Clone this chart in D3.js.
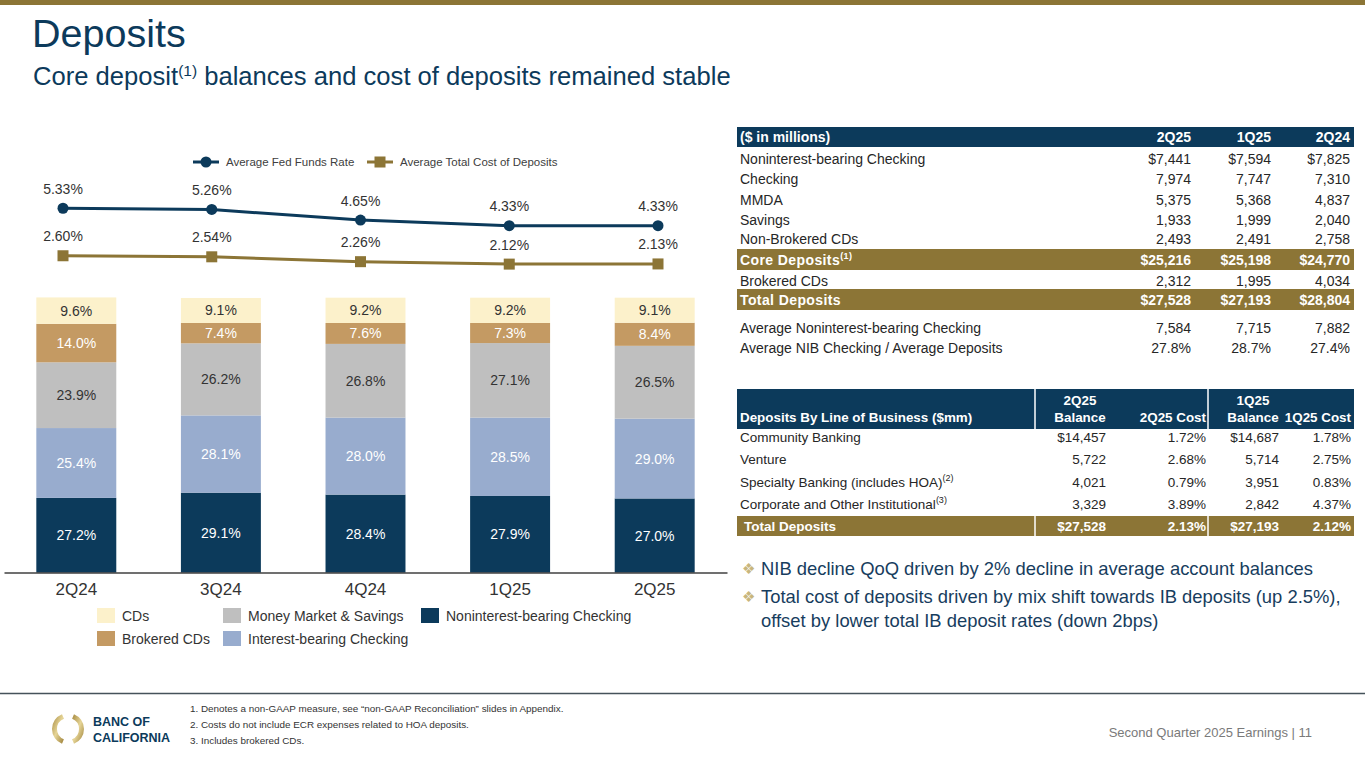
<!DOCTYPE html>
<html>
<head>
<meta charset="utf-8">
<script src="https://cdn.jsdelivr.net/npm/d3@7"></script>
<style>
body { margin: 0; background: #fff; }
svg text { font-family: "Liberation Sans", Arial, sans-serif; }
</style>
</head>
<body>
<div id="canvas"></div>
<script>
// ---- chart data ----
var quarters = ['2Q24', '3Q24', '4Q24', '1Q25', '2Q25'];
var nibChecking = [27.2, 29.1, 28.4, 27.9, 27.0];
var ibChecking = [25.4, 28.1, 28.0, 28.5, 29.0];
var moneyMarket = [23.9, 26.2, 26.8, 27.1, 26.5];
var brokeredCDs = [14.0, 7.4, 7.6, 7.3, 8.4];
var cds = [9.6, 9.1, 9.2, 9.2, 9.1];
var fedFunds = [5.33, 5.26, 4.65, 4.33, 4.33];
var costOfDeposits = [2.60, 2.54, 2.26, 2.12, 2.13];

// ---- balance table ----
var balanceHeaders = ['2Q25', '1Q25', '2Q24'];
var balanceLabels = ['Noninterest-bearing Checking', 'Checking', 'MMDA', 'Savings', 'Non-Brokered CDs',
    'Core Deposits', 'Brokered CDs', 'Total Deposits', 'Average Noninterest-bearing Checking',
    'Average NIB Checking / Average Deposits'];
var balance2Q25 = ['$7,441', '7,974', '5,375', '1,933', '2,493', '$25,216', '2,312', '$27,528', '7,584', '27.8%'];
var balance1Q25 = ['$7,594', '7,747', '5,368', '1,999', '2,491', '$25,198', '1,995', '$27,193', '7,715', '28.7%'];
var balance2Q24 = ['$7,825', '7,310', '4,837', '2,040', '2,758', '$24,770', '4,034', '$28,804', '7,882', '27.4%'];

// ---- line of business table ----
var lobLabels = ['Community Banking', 'Venture', 'Specialty Banking (includes HOA)',
    'Corporate and Other Institutional', 'Total Deposits'];
var lobBalance2Q25 = ['$14,457', '5,722', '4,021', '3,329', '$27,528'];
var lobCost2Q25 = ['1.72%', '2.68%', '0.79%', '3.89%', '2.13%'];
var lobBalance1Q25 = ['$14,687', '5,714', '3,951', '2,842', '$27,193'];
var lobCost1Q25 = ['1.78%', '2.75%', '0.83%', '4.37%', '2.12%'];

var navy = '#0c3a5b';
var gold = '#8c7536';
var textDark = '#262626';

var svg = d3.select(document.getElementById('canvas')).append('svg')
    .attr('width', 1365)
    .attr('height', 768);

// top band + titles
svg.append('rect').attr('x', 0).attr('y', 0).attr('width', 1365).attr('height', 5).attr('fill', gold);

svg.append('text').attr('x', 32).attr('y', 47)
    .attr('font-size', 39.5).attr('fill', navy).text('Deposits');

var sub = svg.append('text').attr('x', 33).attr('y', 85).attr('font-size', 25.6).attr('fill', navy);
sub.append('tspan').text('Core deposit');
sub.append('tspan').attr('dy', -9).attr('font-size', 15.5).text('(1)');
sub.append('tspan').attr('dy', 9).text(' balances and cost of deposits remained stable');

// ---- rate lines ----
var xLine = d3.scalePoint().domain(quarters).range([63, 658]);
var yRate = d3.scaleLinear().domain([0, 6]).range([301, 196.6]);

var rateSeries = [
    { name: 'Average Fed Funds Rate', values: fedFunds, color: navy, marker: 'circle' },
    { name: 'Average Total Cost of Deposits', values: costOfDeposits, color: gold, marker: 'square' }
];

var rateLine = d3.line()
    .x(function(d, i) { return xLine(quarters[i]); })
    .y(function(d) { return yRate(d); });

rateSeries.forEach(function(s) {
    svg.append('path').attr('d', rateLine(s.values))
        .attr('fill', 'none').attr('stroke', s.color).attr('stroke-width', 3);

    s.values.forEach(function(v, i) {
        var cx = xLine(quarters[i]), cy = yRate(v);
        if (s.marker === 'circle') {
            svg.append('circle').attr('cx', cx).attr('cy', cy).attr('r', 5.5).attr('fill', s.color);
        } else {
            svg.append('rect').attr('x', cx - 5.5).attr('y', cy - 5.5)
                .attr('width', 11).attr('height', 11).attr('fill', s.color);
        }
        svg.append('text').attr('x', cx).attr('y', cy - 14.5)
            .attr('text-anchor', 'middle').attr('font-size', 14).attr('fill', '#333')
            .text(v.toFixed(2) + '%');
    });
});

// legend for the lines
var lineLegendX = [193, 367];
rateSeries.forEach(function(s, i) {
    var lx = lineLegendX[i], ly = 162;
    svg.append('line').attr('x1', lx).attr('x2', lx + 26).attr('y1', ly).attr('y2', ly)
        .attr('stroke', s.color).attr('stroke-width', 3);
    if (s.marker === 'circle') {
        svg.append('circle').attr('cx', lx + 13).attr('cy', ly).attr('r', 5.5).attr('fill', s.color);
    } else {
        svg.append('rect').attr('x', lx + 7.5).attr('y', ly - 5.5).attr('width', 11).attr('height', 11).attr('fill', s.color);
    }
    svg.append('text').attr('x', lx + 33).attr('y', ly + 4)
        .attr('font-size', 11.5).attr('fill', '#404040').text(s.name);
});

// ---- stacked bars ----
var xBar = d3.scaleBand().domain(quarters).range([4, 727])
    .paddingInner(0.447).paddingOuter(0.2235);
var yPct = d3.scaleLinear().domain([0, 100]).range([572.7, 297.7]);

var segKeys = ['nib', 'ib', 'mm', 'brokered', 'cds'];
var segNames = {
    nib: 'Noninterest-bearing Checking', ib: 'Interest-bearing Checking',
    mm: 'Money Market & Savings', brokered: 'Brokered CDs', cds: 'CDs'
};
var segColors = { nib: '#0c3a5b', ib: '#98acce', mm: '#bfbfbf', brokered: '#c49a63', cds: '#fcf1cb' };
var segLabelColors = { nib: '#fff', ib: '#fff', mm: '#333', brokered: '#fff', cds: '#333' };

var barRows = quarters.map(function(q, i) {
    return { q: q, nib: nibChecking[i], ib: ibChecking[i], mm: moneyMarket[i], brokered: brokeredCDs[i], cds: cds[i] };
});
var stacked = d3.stack().keys(segKeys)(barRows);

var layers = svg.selectAll('g.layer').data(stacked).enter().append('g').attr('class', 'layer');

layers.selectAll('rect').data(function(d) { return d; }).enter().append('rect')
    .attr('x', function(d) { return xBar(d.data.q); })
    .attr('y', function(d) { return yPct(d[1]); })
    .attr('width', xBar.bandwidth())
    .attr('height', function(d) { return yPct(d[0]) - yPct(d[1]); })
    .attr('fill', function() { return segColors[d3.select(this.parentNode).datum().key]; });

layers.each(function(layer) {
    d3.select(this).selectAll('text').data(layer).enter().append('text')
        .attr('x', function(d) { return xBar(d.data.q) + xBar.bandwidth() / 2; })
        .attr('y', function(d) { return (yPct(d[0]) + yPct(d[1])) / 2 + 5; })
        .attr('text-anchor', 'middle').attr('font-size', 14)
        .attr('fill', segLabelColors[layer.key])
        .text(function(d) { return d.data[layer.key].toFixed(1) + '%'; });
});

var xAxis = svg.append('g').attr('transform', 'translate(0,572.5)')
    .call(d3.axisBottom(xBar).tickSize(0).tickPadding(10.5));
xAxis.select('.domain').attr('stroke', '#404040').attr('stroke-width', 1.5);
xAxis.selectAll('text').attr('font-size', 17).attr('fill', '#333')
    .attr('font-family', '"Liberation Sans", Arial, sans-serif');

// bar legend
var barLegend = [
    { key: 'cds', x: 97, y: 616 }, { key: 'mm', x: 223, y: 616 }, { key: 'nib', x: 421, y: 616 },
    { key: 'brokered', x: 97, y: 639 }, { key: 'ib', x: 223, y: 639 }
];
barLegend.forEach(function(it) {
    svg.append('rect').attr('x', it.x).attr('y', it.y - 8).attr('width', 18).attr('height', 15)
        .attr('fill', segColors[it.key]);
    svg.append('text').attr('x', it.x + 25).attr('y', it.y + 5)
        .attr('font-size', 14).attr('fill', '#333').text(segNames[it.key]);
});

// ---- balance table ----
var tableLeft = 737, tableWidth = 617;
var balanceColX = [1191, 1271, 1350];
var balanceRowY = [158.7, 179.3, 200, 220, 239.3, 259.5, 281, 299.5, 327.7, 347.7];
var balanceBands = { 5: [249, 21], 7: [289, 21] };
var balanceNotes = { 5: '(1)' };
var balanceCols = [balance2Q25, balance1Q25, balance2Q24];

svg.append('rect').attr('x', tableLeft).attr('y', 127).attr('width', tableWidth).attr('height', 20).attr('fill', navy);
svg.append('text').attr('x', 740).attr('y', 142).attr('font-size', 14).attr('font-weight', 'bold')
    .attr('fill', '#fff').text('($ in millions)');
balanceHeaders.forEach(function(h, c) {
    svg.append('text').attr('x', balanceColX[c]).attr('y', 142).attr('text-anchor', 'end')
        .attr('font-size', 14).attr('font-weight', 'bold').attr('fill', '#fff').text(h);
});

balanceLabels.forEach(function(label, r) {
    var band = balanceBands[r];
    var y = balanceRowY[r] + 5;
    var color = band ? '#fff' : textDark;
    var weight = band ? 'bold' : 'normal';
    if (band) {
        svg.append('rect').attr('x', tableLeft).attr('y', band[0]).attr('width', tableWidth)
            .attr('height', band[1]).attr('fill', gold);
    }
    var t = svg.append('text').attr('x', 740).attr('y', y).attr('font-size', 14)
        .attr('font-weight', weight).attr('fill', color)
        .attr('letter-spacing', band ? 0.4 : 0);
    t.append('tspan').text(label);
    if (balanceNotes[r]) {
        t.append('tspan').attr('dy', -6).attr('font-size', 9).text(balanceNotes[r]);
    }
    balanceCols.forEach(function(col, c) {
        svg.append('text').attr('x', balanceColX[c]).attr('y', y).attr('text-anchor', 'end')
            .attr('font-size', 14).attr('font-weight', weight).attr('fill', color).text(col[r]);
    });
});

// ---- line of business table ----
var lobColX = [1106, 1206, 1279, 1351];
var lobRowY = [437, 458.5, 481.5, 504, 526];
var lobNotes = { 2: '(2)', 3: '(3)' };
var lobCols = [lobBalance2Q25, lobCost2Q25, lobBalance1Q25, lobCost1Q25];

svg.append('rect').attr('x', tableLeft).attr('y', 389).attr('width', tableWidth).attr('height', 40).attr('fill', navy);
svg.append('rect').attr('x', tableLeft).attr('y', 516).attr('width', tableWidth).attr('height', 20).attr('fill', gold);

var hdr = svg.append('g').attr('font-size', 13.4).attr('font-weight', 'bold').attr('fill', '#fff');
hdr.append('text').attr('x', 740).attr('y', 422).text('Deposits By Line of Business ($mm)');
hdr.append('text').attr('x', 1080).attr('y', 405).attr('text-anchor', 'middle').text('2Q25');
hdr.append('text').attr('x', 1080).attr('y', 422).attr('text-anchor', 'middle').text('Balance');
hdr.append('text').attr('x', 1206).attr('y', 422).attr('text-anchor', 'end').text('2Q25 Cost');
hdr.append('text').attr('x', 1253).attr('y', 405).attr('text-anchor', 'middle').text('1Q25');
hdr.append('text').attr('x', 1253).attr('y', 422).attr('text-anchor', 'middle').text('Balance');
hdr.append('text').attr('x', 1351).attr('y', 422).attr('text-anchor', 'end').text('1Q25 Cost');

[1035, 1208].forEach(function(x) {
    svg.append('line').attr('x1', x).attr('x2', x).attr('y1', 389).attr('y2', 536)
        .attr('stroke', '#fff').attr('stroke-width', 1.5);
});

lobLabels.forEach(function(label, r) {
    var isTotal = r === lobLabels.length - 1;
    var color = isTotal ? '#fff' : textDark;
    var weight = isTotal ? 'bold' : 'normal';
    var y = lobRowY[r] + 5;
    var t = svg.append('text').attr('x', isTotal ? 744 : 740).attr('y', y).attr('font-size', 13.5)
        .attr('font-weight', weight).attr('fill', color);
    t.append('tspan').text(label);
    if (lobNotes[r]) {
        t.append('tspan').attr('dy', -6).attr('font-size', 9).text(lobNotes[r]);
    }
    lobCols.forEach(function(col, c) {
        svg.append('text').attr('x', lobColX[c]).attr('y', y).attr('text-anchor', 'end')
            .attr('font-size', 13.5).attr('font-weight', weight).attr('fill', color).text(col[r]);
    });
});

// ---- bullets ----
var bullets = [
    { y: 575, glyph: true, text: 'NIB decline QoQ driven by 2% decline in average account balances' },
    { y: 603, glyph: true, text: 'Total cost of deposits driven by mix shift towards IB deposits (up 2.5%),' },
    { y: 627, glyph: false, text: 'offset by lower total IB deposit rates (down 2bps)' }
];
bullets.forEach(function(b) {
    if (b.glyph) {
        svg.append('text').attr('x', 742).attr('y', b.y - 1).attr('font-size', 15)
            .attr('fill', '#c8b67c').style('font-family', '"DejaVu Sans", sans-serif').text('\u2756');
    }
    svg.append('text').attr('x', 761).attr('y', b.y).attr('font-size', 18.4)
        .attr('fill', '#173d5e').text(b.text);
});

// ---- footer ----
svg.append('line').attr('x1', 0).attr('x2', 1365).attr('y1', 693.5).attr('y2', 693.5)
    .attr('stroke', '#45525a').attr('stroke-width', 1.5);

var footnotes = [
    '1.  Denotes a non-GAAP measure, see \u201cnon-GAAP Reconciliation\u201d slides in Appendix.',
    '2.  Costs do not include ECR expenses related to HOA deposits.',
    '3.  Includes brokered CDs.'
];
var footY = [711.5, 727.5, 744];
footnotes.forEach(function(f, i) {
    svg.append('text').attr('x', 190).attr('y', footY[i]).attr('font-size', 9.9).attr('fill', '#333').text(f);
});

svg.append('text').attr('x', 1312).attr('y', 736.5).attr('text-anchor', 'end')
    .attr('font-size', 13).attr('fill', '#7a7a7a').text('Second Quarter 2025 Earnings |  11');

// logo
var defs = svg.append('defs');
var grad = defs.append('linearGradient').attr('id', 'ringGold')
    .attr('x1', '0%').attr('y1', '0%').attr('x2', '100%').attr('y2', '100%');
grad.append('stop').attr('offset', '0%').attr('stop-color', '#a4873d');
grad.append('stop').attr('offset', '50%').attr('stop-color', '#e6d597');
grad.append('stop').attr('offset', '100%').attr('stop-color', '#9c7f36');

var ringArc = d3.arc().innerRadius(11).outerRadius(16);
var deg = Math.PI / 180;
[[22, 158], [202, 338]].forEach(function(a) {
    svg.append('path').attr('transform', 'translate(68,729)')
        .attr('d', ringArc({ startAngle: a[0] * deg, endAngle: a[1] * deg }))
        .attr('fill', 'url(#ringGold)');
});
svg.append('text').attr('x', 93).attr('y', 726).attr('font-size', 12.5).attr('font-weight', 'bold')
    .attr('fill', navy).text('BANC OF');
svg.append('text').attr('x', 93).attr('y', 742).attr('font-size', 12.5).attr('font-weight', 'bold')
    .attr('fill', navy).text('CALIFORNIA');
</script>
</body>
</html>
